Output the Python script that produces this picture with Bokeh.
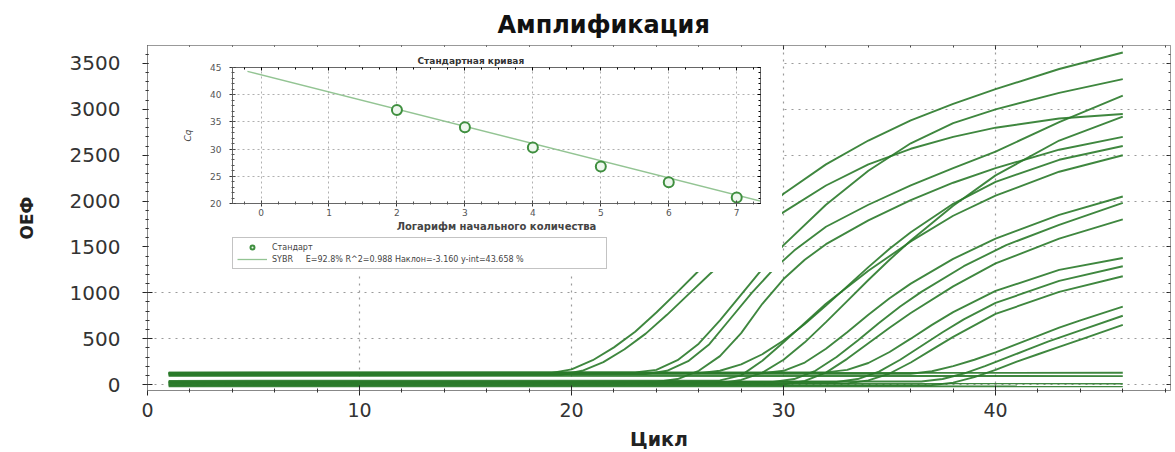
from bokeh.plotting import figure
from bokeh.models import (FixedTicker, LinearAxis, Range1d, Legend, LegendItem)
from bokeh.embed import file_html
from bokeh.resources import INLINE

# ---------------- main chart data (cycle, fluorescence) ----------------
A1_x = [1, 19, 20, 21, 22, 23, 24, 25, 26, 28, 30, 32, 34, 36, 38, 40, 43, 46]
A1_y = [120, 125, 165, 265, 405, 575, 785, 1010, 1240, 1680, 2080, 2400, 2660, 2880, 3060, 3220, 3440, 3620]
A2_x = [1, 19.5, 20.5, 21.5, 22.5, 23.5, 24.5, 25.5, 26.5, 28, 30, 32, 34, 36, 38, 40, 43, 46]
A2_y = [100, 105, 150, 245, 385, 555, 760, 980, 1200, 1520, 1880, 2170, 2400, 2570, 2700, 2800, 2900, 2950]
B1_x = [1, 23, 24, 25, 26, 27, 28, 29, 30, 32, 34, 36, 38, 40, 43, 46]
B1_y = [130, 133, 160, 265, 445, 700, 980, 1260, 1520, 1960, 2330, 2630, 2850, 3000, 3180, 3330]
B2_x = [1, 23.5, 24.5, 25.5, 26.5, 27.5, 28.5, 29.5, 30.5, 32, 34, 36, 38, 40, 43, 46]
B2_y = [110, 113, 150, 255, 440, 720, 1000, 1250, 1460, 1720, 1960, 2170, 2360, 2540, 2860, 3150]
B3_x = [1, 24, 25, 26, 27, 28, 29, 30, 31, 32, 34, 36, 38, 40, 43, 46]
B3_y = [25, 28, 60, 150, 310, 560, 880, 1150, 1360, 1530, 1790, 2010, 2200, 2360, 2560, 2700]
C1_x = [1, 27, 28, 29, 30, 31, 32, 33, 34, 35, 36, 38, 40, 43, 46]
C1_y = [10, 14, 50, 130, 270, 460, 680, 910, 1140, 1360, 1570, 1950, 2280, 2660, 2920]
C2_x = [1, 26, 27, 28, 29, 30, 31, 32, 33, 34, 35, 36, 38, 40, 43, 46]
C2_y = [120, 123, 150, 220, 330, 480, 660, 860, 1070, 1280, 1480, 1660, 1970, 2210, 2450, 2600]
C3_x = [1, 27, 28, 29, 30, 31, 32, 34, 36, 38, 40, 43, 46]
C3_y = [40, 45, 100, 260, 460, 670, 880, 1240, 1560, 1840, 2060, 2320, 2500]
D1_x = [1, 29, 30, 31, 32, 33, 34, 35, 36, 38, 40, 43, 46]
D1_y = [120, 123, 150, 240, 390, 570, 760, 940, 1100, 1370, 1590, 1850, 2050]
D2_x = [1, 29.5, 30.5, 31.5, 32.5, 33.5, 34.5, 35.5, 36.5, 38.5, 40.5, 43, 46]
D2_y = [25, 28, 60, 150, 300, 480, 670, 850, 1010, 1290, 1520, 1740, 1980]
D3_x = [1, 30, 31, 32, 33, 34, 35, 36, 38, 40, 43, 46]
D3_y = [-5, 0, 40, 130, 280, 450, 620, 780, 1070, 1320, 1590, 1800]
E1_x = [1, 32, 33, 34, 35, 36, 37, 38, 40, 43, 46]
E1_y = [130, 133, 160, 235, 355, 500, 650, 790, 1020, 1250, 1380]
E2_x = [1, 32.5, 33.5, 34.5, 35.5, 36.5, 37.5, 38.5, 40, 43, 46]
E2_y = [25, 28, 60, 140, 270, 420, 570, 710, 890, 1130, 1290]
E3_x = [1, 33, 34, 35, 36, 37, 38, 40, 43, 46]
E3_y = [10, 13, 45, 120, 240, 380, 520, 770, 1010, 1180]
F1_x = [1, 36, 37, 38, 39, 40, 41, 42, 43, 44, 46]
F1_y = [115, 118, 145, 200, 270, 350, 440, 530, 620, 700, 850]
F2_x = [1, 36.5, 37.5, 38.5, 39.5, 40.5, 41.5, 42.5, 44, 46]
F2_y = [30, 33, 60, 120, 200, 290, 380, 470, 590, 750]
F3_x = [1, 37, 38, 39, 40, 41, 42, 43, 44, 46]
F3_y = [-10, -7, 20, 80, 160, 250, 330, 410, 490, 650]
N1_x = [1, 46]
N1_y = [125, 128]
N2_x = [1, 46]
N2_y = [15, 12]
N3_x = [1, 46]
N3_y = [95, 92]
N4_x = [1, 46]
N4_y = [-18, -20]

CURVES_X = [A1_x, A2_x, B1_x, B2_x, B3_x, C1_x, C2_x, C3_x, D1_x, D2_x, D3_x,
            E1_x, E2_x, E3_x, F1_x, F2_x, F3_x, N1_x, N2_x, N3_x, N4_x]
CURVES_Y = [A1_y, A2_y, B1_y, B2_y, B3_y, C1_y, C2_y, C3_y, D1_y, D2_y, D3_y,
            E1_y, E2_y, E3_y, F1_y, F2_y, F3_y, N1_y, N2_y, N3_y, N4_y]

X_TICKS = [0, 10, 20, 30, 40]
Y_TICKS = [0, 500, 1000, 1500, 2000, 2500, 3000, 3500]

# ---------------- inset (standard curve) data ----------------
log_qty = [2, 3, 4, 5, 6, 7]
cq_vals = [37.2, 34.0, 30.3, 26.8, 23.9, 21.1]
fit_slope = -3.160
fit_intercept = 43.658
fit_span = [-0.2, 7.4]
inset_x_ticks = [0, 1, 2, 3, 4, 5, 6, 7]
inset_y_ticks = [20, 25, 30, 35, 40, 45]
legend_labels = ["Стандарт",
                 "SYBR\u00a0\u00a0\u00a0\u00a0\u00a0E=92.8% R^2=0.988 Наклон=-3.160 y-int=43.658 %"]

FONT = "DejaVu Sans"
GREEN = "#2a7a2a"
PT_STYLE = dict(marker="circle", size=10, fill_color="#eef7ee", line_color="#3f8f3f", line_width=2)
FIT_STYLE = dict(line_color="#93c493", line_width=1.3)

# ================= main figure =================
p = figure(width=1175, height=452, x_range=Range1d(0, 48.25), y_range=Range1d(-65, 3696),
           output_backend="svg", toolbar_location=None,
           min_border_left=147, min_border_right=5, min_border_top=45, min_border_bottom=62,
           background_fill_color="white", border_fill_color="white",
           outline_line_color="#999999",
           styles={"position": "absolute", "left": "0px", "top": "0px"})

p.title.text = "Амплификация"
p.title.text_font = FONT
p.title.text_font_size = "24px"
p.title.text_font_style = "bold"
p.title.text_color = "#111111"
p.title.align = "left"
p.title.offset = 350
p.title.standoff = 14

xt = FixedTicker(ticks=X_TICKS, minor_ticks=list(range(0, 49, 2)))
yt = FixedTicker(ticks=Y_TICKS, minor_ticks=list(range(0, 3700, 100)))

p.xaxis.ticker = xt
p.yaxis.ticker = yt
p.xgrid.ticker = xt
p.ygrid.ticker = yt
for g in (p.xgrid, p.ygrid):
    g.grid_line_color = "#9a9a9a"
    g.grid_line_dash = "2 5"
    g.grid_line_width = 1.2

for ax in (p.xaxis, p.yaxis):
    ax.axis_line_color = "#888888"
    ax.major_tick_line_color = "#222222"
    ax.minor_tick_line_color = "#333333"
    ax.major_tick_in = 5
    ax.major_tick_out = 5
    ax.minor_tick_in = 2
    ax.minor_tick_out = 2
    ax.major_label_text_font = FONT
    ax.major_label_text_font_size = "20px"
    ax.major_label_text_color = "#333333"
    ax.axis_label_text_font = FONT
    ax.axis_label_text_font_style = "bold"
    ax.axis_label_text_color = "#222222"

p.xaxis.axis_label = "Цикл"
p.xaxis.axis_label_text_font_size = "19px"
p.xaxis.major_label_text_font_size = "19px"
p.xaxis.major_label_standoff = 7
p.xaxis.axis_label_standoff = 8
p.yaxis.axis_label = "ОЕФ"
p.yaxis.axis_label_text_font_size = "17px"
p.yaxis.major_label_standoff = 22
p.yaxis.axis_label_standoff = 30

# frame-edge axes carrying only tick marks (their labels are empty)
top_ax = LinearAxis(ticker=xt, major_label_overrides={t: "" for t in X_TICKS},
                    major_label_text_font_size="1px", major_label_standoff=0,
                    major_tick_in=4, major_tick_out=0, minor_tick_in=2, minor_tick_out=0,
                    axis_line_color="#999999", major_tick_line_color="#222222",
                    minor_tick_line_color="#444444")
right_ax = LinearAxis(ticker=yt, major_label_overrides={t: "" for t in Y_TICKS},
                      major_label_text_font_size="1px", major_label_standoff=0,
                      major_tick_in=4, major_tick_out=0, minor_tick_in=2, minor_tick_out=0,
                      axis_line_color="#999999", major_tick_line_color="#222222",
                      minor_tick_line_color="#444444")
p.add_layout(top_ax, "above")
p.add_layout(right_ax, "right")

p.multi_line(xs=CURVES_X, ys=CURVES_Y, line_color=GREEN, line_width=1.9, line_alpha=0.9)

# ================= inset figure (white panel over the main plot) =================
q = figure(width=634, height=226, x_range=Range1d(-0.42, 7.35), y_range=Range1d(20, 45),
           output_backend="svg", toolbar_location=None,
           min_border_left=84, min_border_right=22, min_border_top=21, min_border_bottom=69,
           background_fill_color="white", border_fill_color="white",
           outline_line_color="#666666",
           styles={"position": "absolute", "left": "148px", "top": "46px"})

q.title.text = "Стандартная кривая"
q.title.text_font = FONT
q.title.text_font_size = "9px"
q.title.text_font_style = "bold"
q.title.text_color = "#333333"
q.title.align = "left"
q.title.offset = 185
q.title.standoff = 3

ixt = FixedTicker(ticks=inset_x_ticks, minor_ticks=[v / 4 for v in range(-1, 30)])
iyt = FixedTicker(ticks=inset_y_ticks, minor_ticks=list(range(20, 46)))
q.xaxis.ticker = ixt
q.yaxis.ticker = iyt
q.xgrid.ticker = ixt
q.ygrid.ticker = iyt
for g in (q.xgrid, q.ygrid):
    g.grid_line_color = "#b0b0b0"
    g.grid_line_dash = "2 3"

for ax in (q.xaxis, q.yaxis):
    ax.axis_line_color = "#666666"
    ax.major_tick_line_color = "#333333"
    ax.minor_tick_line_color = "#555555"
    ax.major_tick_in = 3
    ax.major_tick_out = 3
    ax.minor_tick_in = 2
    ax.minor_tick_out = 1
    ax.major_label_text_font = FONT
    ax.major_label_text_font_size = "9px"
    ax.major_label_text_color = "#555555"
    ax.axis_label_text_font = FONT
    ax.axis_label_text_color = "#444444"

q.xaxis.axis_label = "Логарифм начального количества"
q.xaxis.axis_label_text_font_size = "10px"
q.xaxis.axis_label_text_font_style = "bold"
q.xaxis.major_label_standoff = 2
q.xaxis.axis_label_standoff = 2
q.yaxis.axis_label = "Cq"
q.yaxis.axis_label_text_font_size = "9px"
q.yaxis.axis_label_text_font_style = "italic"
q.yaxis.major_label_standoff = 8
q.yaxis.axis_label_standoff = 14

q_top = LinearAxis(ticker=ixt, major_label_overrides={t: "" for t in inset_x_ticks},
                   major_label_text_font_size="1px", major_label_standoff=0,
                   major_tick_in=3, major_tick_out=0, minor_tick_in=2, minor_tick_out=0,
                   axis_line_color="#666666")
q_right = LinearAxis(ticker=iyt, major_label_overrides={t: "" for t in inset_y_ticks},
                     major_label_text_font_size="1px", major_label_standoff=0,
                     major_tick_in=3, major_tick_out=0, minor_tick_in=2, minor_tick_out=0,
                     axis_line_color="#666666")
q.add_layout(q_top, "above")
q.add_layout(q_right, "right")

fit_y = [fit_intercept + fit_slope * v for v in fit_span]
q.line(fit_span, fit_y, **FIT_STYLE)
q.scatter(log_qty, cq_vals, **PT_STYLE)

# ================= legend box of the inset (small overlay) =================
# this tiny figure's ranges lie outside the data, so only the legend shows
lg = figure(width=378, height=32, output_backend="svg", toolbar_location=None,
            min_border=0, min_border_left=0, min_border_right=0, min_border_top=0,
            min_border_bottom=0, x_range=Range1d(-10, -9), y_range=Range1d(-10, -9),
            background_fill_color="white", border_fill_color="white",
            outline_line_color=None,
            styles={"position": "absolute", "left": "232px", "top": "237px"})
lg.axis.visible = False
lg.grid.visible = False
lr_pts = lg.scatter(log_qty, cq_vals, **PT_STYLE)
lr_fit = lg.line(fit_span, fit_y, **FIT_STYLE)
legend = Legend(items=[
    LegendItem(label=legend_labels[0], renderers=[lr_pts]),
    LegendItem(label=legend_labels[1], renderers=[lr_fit]),
], location="top_left", orientation="vertical")
legend.label_text_font = FONT
legend.label_text_font_size = "8px"
legend.label_text_color = "#444444"
legend.glyph_width = 30
legend.glyph_height = 10
legend.label_height = 10
legend.label_width = 330
legend.label_standoff = 5
legend.spacing = 2
legend.padding = 4
legend.margin = 0
legend.border_line_color = "#888888"
legend.background_fill_color = "white"
legend.background_fill_alpha = 1.0
lg.add_layout(legend)

open("out.html", "w").write(file_html([p, q, lg], INLINE))
